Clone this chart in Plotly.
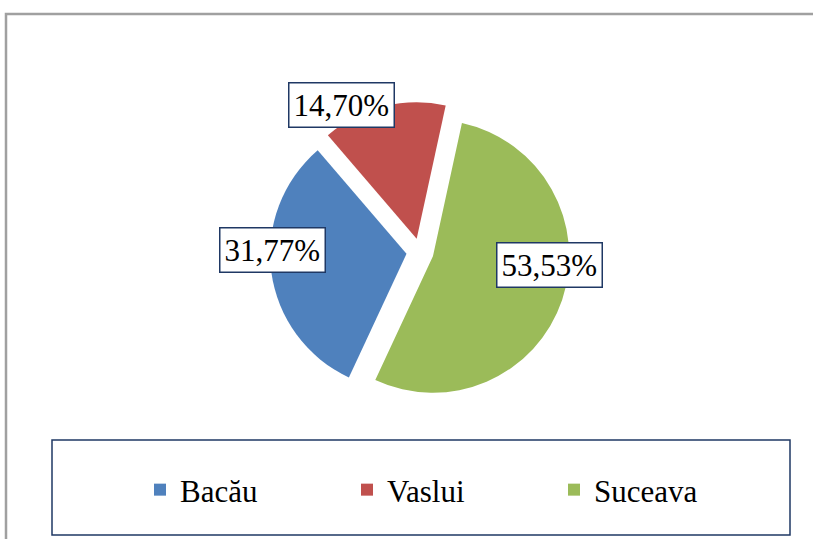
import plotly.graph_objects as go

labels = ["Bacău", "Vaslui", "Suceava"]
values = [31.77, 14.70, 53.53]
colors = ["#4F81BD", "#C0504D", "#9BBB59"]
label_text = ["31,77%", "14,70%", "53,53%"]
# label positions (paper coords) for the boxed percentage labels
label_x = [272 / 813, 341 / 813, 549 / 813]
label_y = [1 - 250 / 539, 1 - 105 / 539, 1 - 265 / 539]

W, H = 813, 539
cx, cy, R = 420, 252, 150

fig = go.Figure(go.Pie(
    labels=labels,
    values=values,
    marker=dict(colors=colors, line=dict(width=0)),
    sort=False,
    direction="clockwise",
    rotation=205,
    pull=[0.1, 0.1, 0.1],
    textinfo="none",
    hoverinfo="label+percent",
    domain=dict(x=[(cx - R) / W, (cx + R) / W], y=[1 - (cy + R) / H, 1 - (cy - R) / H]),
))

for t, x, y in zip(label_text, label_x, label_y):
    fig.add_annotation(
        x=x, y=y, xref="paper", yref="paper", text=t, showarrow=False,
        xanchor="center", yanchor="middle",
        font=dict(family="Liberation Serif", size=31, color="black"),
        bgcolor="white", bordercolor="#1F3864", borderwidth=1.5, borderpad=4,
    )

# outer chart border
fig.add_shape(type="rect", xref="paper", yref="paper",
              x0=6 / W, x1=1.02, y0=-0.02, y1=1 - 14 / H,
              line=dict(color="#A0A0A0", width=2.5), fillcolor="rgba(0,0,0,0)", layer="below")
# legend box
fig.add_shape(type="rect", xref="paper", yref="paper",
              x0=52 / W, x1=790 / W, y0=1 - 535 / H, y1=1 - 440 / H,
              line=dict(color="#1F3864", width=1.5), fillcolor="rgba(0,0,0,0)")

fig.update_layout(
    width=W, height=H,
    margin=dict(l=0, r=0, t=0, b=0),
    paper_bgcolor="white",
    plot_bgcolor="white",
    showlegend=True,
    legend=dict(
        orientation="h", x=140 / W, xanchor="left", y=1 - 490 / H, yanchor="middle",
        font=dict(family="Liberation Serif", size=31, color="black"),
        entrywidth=162, entrywidthmode="pixels",
        bgcolor="rgba(0,0,0,0)", itemclick=False,
    ),
)

fig.write_html("out.html", config={"displayModeBar": False},
               post_script="document.body.style.margin='0';")
